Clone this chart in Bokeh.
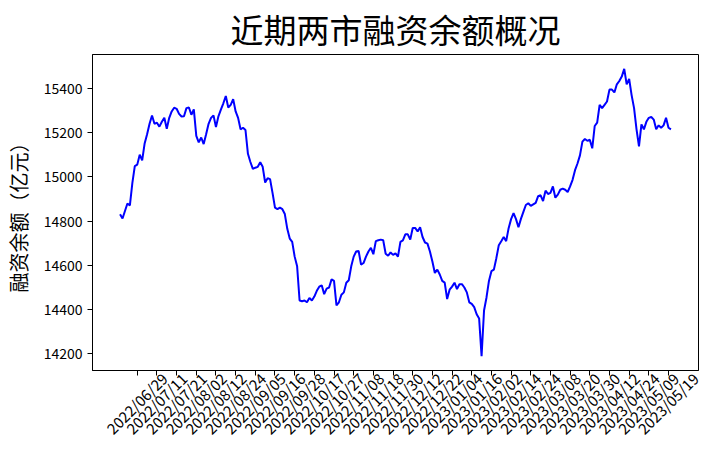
import math
from bokeh.plotting import figure
from bokeh.models import Range1d, FixedTicker, LinearAxis
from bokeh.embed import file_html
from bokeh.resources import INLINE

# 两市融资余额（亿元），按交易日顺序
balance = [
    14831, 14812, 14846, 14880, 14871, 14972, 15049, 15056, 15101, 15075,
    15152, 15194, 15241, 15279, 15241, 15246, 15228, 15250, 15268, 15219,
    15268, 15297, 15314, 15309, 15286, 15274, 15275, 15312, 15315, 15282,
    15306, 15186, 15157, 15179, 15149, 15194, 15241, 15268, 15279, 15226,
    15275, 15305, 15334, 15367, 15315, 15327, 15353, 15297, 15268, 15216,
    15223, 15213, 15105, 15068, 15037, 15042, 15046, 15067, 15046, 14975,
    14994, 14990, 14928, 14861, 14854, 14861, 14854, 14832, 14765, 14721,
    14706, 14639, 14595, 14440, 14437, 14440, 14432, 14452, 14440, 14458,
    14484, 14503, 14509, 14469, 14494, 14499, 14536, 14529, 14418, 14432,
    14466, 14477, 14521, 14532, 14595, 14639, 14662, 14665, 14603, 14610,
    14639, 14662, 14679, 14650, 14709, 14713, 14716, 14713, 14652, 14643,
    14658, 14647, 14654, 14639, 14706, 14713, 14740, 14740, 14716, 14769,
    14769, 14753, 14772, 14728, 14703, 14698, 14662, 14617, 14565, 14580,
    14558, 14529, 14521, 14447, 14489, 14503, 14521, 14492, 14514, 14514,
    14499, 14477, 14432, 14425, 14410, 14378, 14359, 14188, 14395, 14454,
    14529, 14573, 14580, 14632, 14691, 14709, 14728, 14709, 14768, 14809,
    14836, 14809, 14772, 14810, 14842, 14873, 14881, 14869, 14876, 14883,
    14913, 14917, 14891, 14938, 14923, 14928, 14957, 14906, 14920, 14942,
    14947, 14942, 14932, 14957, 14987, 15031, 15061, 15098, 15160, 15172,
    15164, 15169, 15130, 15231, 15246, 15327, 15312, 15327, 15342, 15396,
    15396, 15383, 15420, 15435, 15455, 15490, 15420, 15445, 15371, 15312,
    15216, 15139, 15238, 15216, 15250, 15268, 15272, 15260, 15216, 15234,
    15223, 15234, 15268, 15223, 15216,
]

tick_labels = [
    "2022/06/29", "2022/07/11", "2022/07/21", "2022/08/02", "2022/08/12",
    "2022/08/24", "2022/09/05", "2022/09/16", "2022/09/28", "2022/10/17",
    "2022/10/27", "2022/11/08", "2022/11/18", "2022/11/30", "2022/12/12",
    "2022/12/22", "2023/01/04", "2023/01/16", "2023/02/02", "2023/02/14",
    "2023/02/24", "2023/03/08", "2023/03/20", "2023/03/30", "2023/04/12",
    "2023/04/24", "2023/05/09", "2023/05/19",
]

y_ticks = [14200, 14400, 14600, 14800, 15000, 15200, 15400]

FONT = "Noto Sans CJK SC"

idx = list(range(len(balance)))
tick_pos = [7 + 8 * k for k in range(len(tick_labels))]
# rotated labels are centred on their tick: shift the (right-anchored) label axis
label_shift = 11
label_pos = [t + label_shift for t in tick_pos]

n = len(balance) - 1
xm = 0.05 * n
ymin, ymax = min(balance), max(balance)
ym = 0.05 * (ymax - ymin)

p = figure(width=708, height=448, output_backend="svg", toolbar_location=None,
           x_range=Range1d(-xm, n + xm), y_range=Range1d(ymin - ym, ymax + ym),
           min_border_left=80, min_border_right=10, min_border_top=0, min_border_bottom=0)

p.title.text = "近期两市融资余额概况"
p.title.align = "center"
p.title.text_font = FONT
p.title.text_font_size = "33px"
p.title.text_font_style = "normal"
p.title.text_color = "black"
p.title.standoff = 4
p.title.offset = 0

p.line(idx, balance, line_color="#0000ff", line_width=2)

p.xgrid.visible = False
p.ygrid.visible = False
p.outline_line_color = "black"
p.outline_line_width = 1
p.background_fill_color = "white"
p.border_fill_color = "white"

p.xaxis.ticker = FixedTicker(ticks=tick_pos)
p.xaxis.major_label_text_font_size = "0px"
p.xaxis.major_label_standoff = 0
p.yaxis.ticker = FixedTicker(ticks=y_ticks)

for ax in (p.xaxis[0], p.yaxis[0]):
    ax.axis_line_color = "black"
    ax.major_tick_line_color = "black"
    ax.major_tick_out = 5
    ax.major_tick_in = 0
    ax.minor_tick_line_color = None

label_axis = LinearAxis(ticker=FixedTicker(ticks=label_pos),
                        major_label_overrides={pos: lab for pos, lab in zip(label_pos, tick_labels)},
                        major_label_orientation=math.pi / 4,
                        axis_line_color=None, major_tick_line_color=None,
                        minor_tick_line_color=None, major_tick_out=0, major_tick_in=0,
                        major_label_standoff=0,
                        major_label_text_font=FONT, major_label_text_font_size="15px",
                        major_label_text_color="black")
p.add_layout(label_axis, "below")

p.yaxis.major_label_text_font = FONT
p.yaxis.major_label_text_font_size = "14px"
p.yaxis.major_label_text_color = "black"
p.yaxis.axis_label = "融资余额（亿元）"
p.yaxis.axis_label_text_font = FONT
p.yaxis.axis_label_text_font_size = "20px"
p.yaxis.axis_label_text_font_style = "normal"
p.yaxis.axis_label_text_color = "black"
p.yaxis.axis_label_standoff = 8

open("out.html", "w").write(file_html(p, INLINE))
